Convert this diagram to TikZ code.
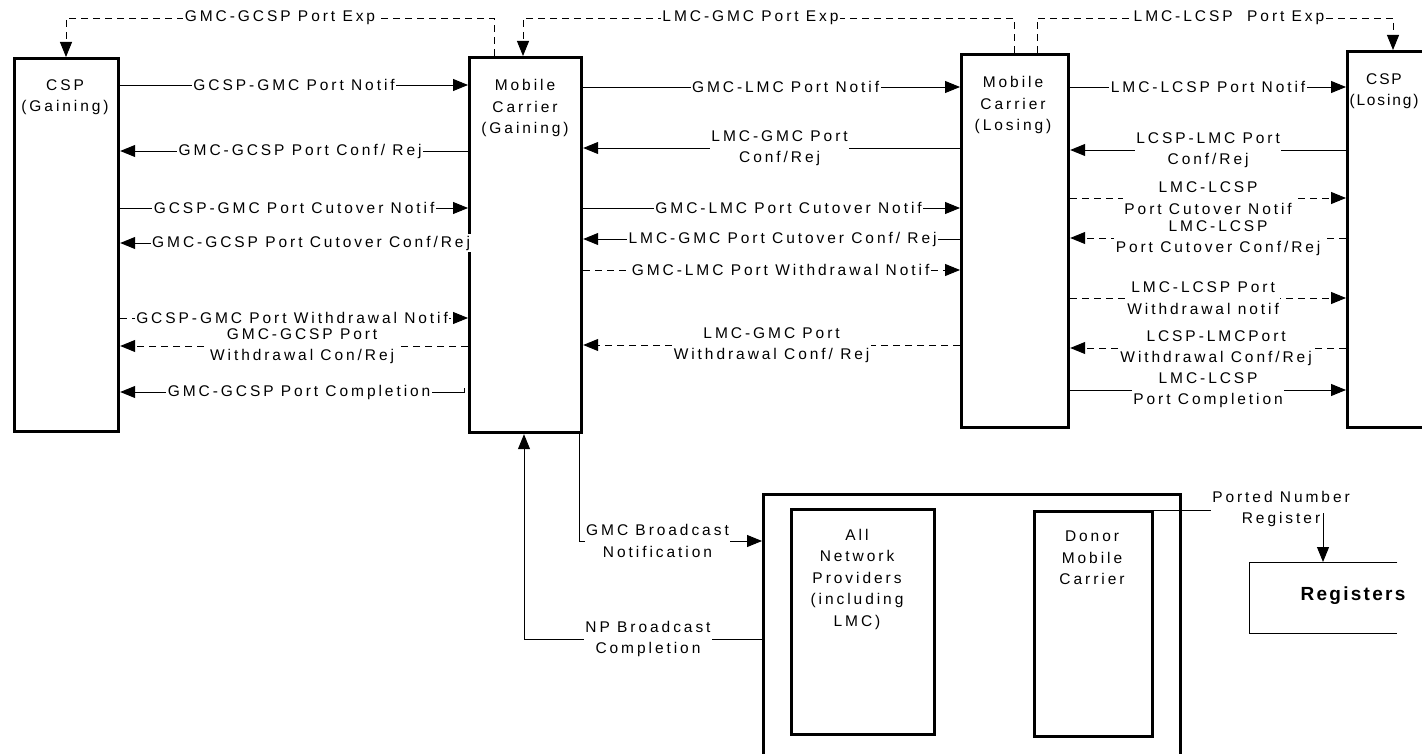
\documentclass[tikz,border=0pt]{standalone}
\usepackage{fontspec}
\setmainfont{Liberation Sans}[LetterSpace=19]
\usetikzlibrary{arrows.meta}
\begin{document}
\begin{tikzpicture}[x=1pt,y=-1pt,
  font=\fontsize{15.5}{21.5}\selectfont,
  box/.style={draw, line width=3.2pt, anchor=north west, inner sep=0pt},
  txt/.style={align=center, inner sep=0pt},
  arr/.style={line width=0.9pt, -{Triangle[length=15pt,width=12pt]}},
  ln/.style={line width=0.9pt},
  dsh/.style={dash pattern=on 7pt off 5pt},
  lbl/.style={fill=white, inner sep=1.5pt, align=center}]
\useasboundingbox (0,0) rectangle (1422,754);
\clip (0,0) rectangle (1422,754);
% main boxes
\node[box, minimum width=104pt, minimum height=373pt] (cspg) at (13,57) {};
\node[box, minimum width=112pt, minimum height=375pt] (mcg) at (468,56) {};
\node[box, minimum width=107pt, minimum height=373pt] (mcl) at (960,53) {};
\node[box, minimum width=140pt, minimum height=376pt] (cspl) at (1346,50) {};
\node[txt] (cspgT) at (65,97) {CSP\\(Gaining)};
\node[txt] (mcgT) at (525,108) {Mobile\\Carrier\\(Gaining)};
\node[txt] (mclT) at (1013,105) {Mobile\\Carrier\\(Losing)};
\node[txt, font=\fontsize{15.5}{21.5}\selectfont\addfontfeature{LetterSpace=12}] (csplT) at (1384,91) {CSP\\(Losing)};
% bottom boxes
\node[box, minimum width=417pt, minimum height=300pt] (npo) at (762,493) {};
\node[box, minimum width=143pt, minimum height=225pt] (anp) at (790,508) {};
\node[box, minimum width=118pt, minimum height=225pt] (dmc) at (1033,510) {};
\node[txt] (anpT) at (857,579) {All\\Network\\Providers\\(including\\LMC)};
\node[txt] (dmcT) at (1092,558) {Donor\\Mobile\\Carrier};
\node[anchor=north west, minimum width=148pt, minimum height=71pt, inner sep=0pt] (regbox) at (1249,562) {};
\draw[ln] (regbox.north east) -- (regbox.north west) -- (regbox.south west) -- (regbox.south east);
\node[txt, font=\fontsize{19}{22}\selectfont\bfseries\addfontfeature{LetterSpace=12}] (regT) at (1353,596) {Registers};
% top expiry connectors
\draw[arr, dsh] (mcg.north -| 494,0) -- (494,18) -- node[lbl]{GMC-GCSP Port Exp} (66,18) -- (cspg.north -| 66,0);
\draw[arr, dsh] (mcl.north -| 1014,0) -- (1014,18) -- node[lbl, xshift=-18pt]{LMC-GMC Port Exp} (523,18) -- (mcg.north -| 523,0);
\draw[arr, dsh] (mcl.north -| 1037,0) -- (1037,18) -- node[lbl, xshift=14pt]{LMC-LCSP\ \ Port Exp} (1393,18) -- (cspl.north -| 1393,0);
% left pair
\draw[arr] (cspg.east |- 0,85) -- node[lbl]{GCSP-GMC Port Notif} (mcg.west |- 0,85);
\draw[arr] (mcg.west |- 0,151) -- node[lbl, xshift=6pt]{GMC-GCSP Port Conf/ Rej} (cspg.east |- 0,151);
\draw[arr] (cspg.east |- 0,208) -- node[lbl]{GCSP-GMC Port Cutover Notif} (mcg.west |- 0,208);
\draw[arr] (mcg.west |- 0,243) -- node[lbl, xshift=17pt]{GMC-GCSP Port Cutover Conf/Rej} (cspg.east |- 0,243);
\draw[arr, dsh] (cspg.east |- 0,318) -- node[lbl, xshift=-2pt]{GCSP-GMC Port Withdrawal Notif} (mcg.west |- 0,318);
\draw[arr, dsh] (mcg.west |- 0,346) -- node[lbl, xshift=8pt]{GMC-GCSP Port\\Withdrawal Con/Rej} (cspg.east |- 0,346);
\coordinate (gcompl) at (464,388);
\draw[arr] (gcompl) -- (464,392) -- node[lbl, xshift=7pt]{GMC-GCSP Port Completion} (cspg.east |- 0,392);
% middle pair
\draw[arr] (mcg.east |- 0,87) -- node[lbl, xshift=14pt]{GMC-LMC Port Notif} (mcl.west |- 0,87);
\draw[arr] (mcl.west |- 0,148) -- node[lbl, xshift=8pt]{LMC-GMC Port\\Conf/Rej} (mcg.east |- 0,148);
\draw[arr] (mcg.east |- 0,208) -- node[lbl, xshift=17pt]{GMC-LMC Port Cutover Notif} (mcl.west |- 0,208);
\draw[arr] (mcl.west |- 0,239) -- node[lbl, xshift=11pt]{LMC-GMC Port Cutover Conf/ Rej} (mcg.east |- 0,239);
\draw[arr, dsh] (mcg.east |- 0,270) -- node[lbl, xshift=9pt]{GMC-LMC Port Withdrawal Notif} (mcl.west |- 0,270);
\draw[arr, dsh] (mcl.west |- 0,345) -- node[lbl]{LMC-GMC Port\\Withdrawal Conf/ Rej} (mcg.east |- 0,345);
% right pair
\draw[arr] (mcl.east |- 0,87) -- node[lbl]{LMC-LCSP Port Notif} (cspl.west |- 0,87);
\draw[arr] (cspl.west |- 0,150) -- node[lbl]{LCSP-LMC Port\\Conf/Rej} (mcl.east |- 0,150);
\draw[arr, dsh] (mcl.east |- 0,198) -- node[lbl]{LMC-LCSP\\Port Cutover Notif} (cspl.west |- 0,198);
\draw[arr, dsh] (cspl.west |- 0,238) -- node[lbl, xshift=10pt]{LMC-LCSP\\Port Cutover Conf/Rej} (mcl.east |- 0,238);
\draw[arr, dsh] (mcl.east |- 0,298) -- node[lbl, xshift=-5pt]{LMC-LCSP Port\\Withdrawal notif} (cspl.west |- 0,298);
\draw[arr, dsh] (cspl.west |- 0,348) -- node[lbl, xshift=8pt]{LCSP-LMCPort\\Withdrawal Conf/Rej} (mcl.east |- 0,348);
\draw[arr] (mcl.east |- 0,390) -- node[lbl]{LMC-LCSP\\Port Completion} (cspl.west |- 0,390);
% broadcast
\draw[arr] (mcg.south -| 579,0) -- (579,541) -- node[lbl, xshift=-13pt]{GMC Broadcast\\Notification} (npo.west |- 0,541);
\draw[arr] (npo.west |- 0,639) -- node[lbl, xshift=5pt]{NP Broadcast\\Completion} (524,639) -- (mcg.south -| 524,0);
% ported number register
\coordinate (pnrA) at (1211,510);
\coordinate (pnrB) at (1323,513);
\draw[ln] (dmc.north east) -- (pnrA);
\node[txt] (pnrT) at (1281,509) {Ported Number\\Register};
\draw[arr] (pnrB) -- (pnrB |- regbox.north);
\end{tikzpicture}
\end{document}
